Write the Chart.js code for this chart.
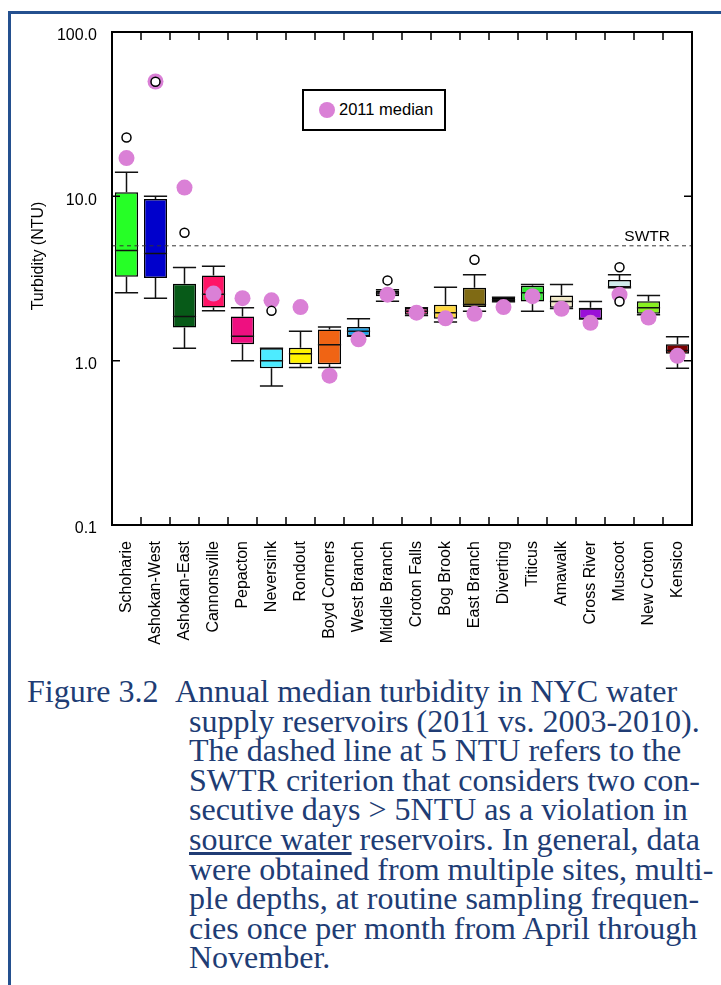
<!DOCTYPE html>
<html>
<head>
<meta charset="utf-8">
<script src="https://cdn.jsdelivr.net/npm/chart.js@4.4.0/dist/chart.umd.min.js"></script>
<style>
  html, body { margin: 0; padding: 0; background: #fff; }
  body { width: 721px; height: 985px; position: relative; overflow: hidden; }
  #frameTop { position: absolute; left: 8px; top: 11px; width: 713px; height: 3px; background: #24508f; }
  #frameLeft { position: absolute; left: 8px; top: 11px; width: 3px; height: 974px; background: #24508f; }
  #wrap { position: absolute; left: 0; top: 0; width: 721px; height: 650px; }
  #legend { position: absolute; left: 302px; top: 89px; width: 140px; height: 38px; border: 2px solid #000; background: #fff;
            font: 16.5px "Liberation Sans", Arial, sans-serif; color: #000; }
  #legend .dot { position: absolute; left: 15px; top: 11px; width: 16px; height: 16px; border-radius: 50%; background: #da80d6; }
  #legend .txt { position: absolute; left: 35px; top: 9px; white-space: nowrap; }
  .cap { position: absolute; font: 32px "Liberation Serif", "Times New Roman", serif; line-height: 29.6px; color: #203c74; white-space: nowrap; }
</style>
</head>
<body>
<div id="frameTop"></div>
<div id="frameLeft"></div>
<div id="wrap"><canvas id="chart"></canvas></div>
<div id="legend"><div class="dot"></div><div class="txt">2011 median</div></div>

<div class="cap" style="left:27px;top:677px">Figure 3.2</div>
<div class="cap" style="left:175px;top:677px">Annual median turbidity in NYC water</div>
<div class="cap" style="left:189px;top:706.6px">supply reservoirs (2011 vs. 2003-2010).</div>
<div class="cap" style="left:189px;top:736.2px">The dashed line at 5 NTU refers to the</div>
<div class="cap" style="left:189px;top:765.8px">SWTR criterion that considers two con-</div>
<div class="cap" style="left:189px;top:795.4px">secutive days &gt; 5NTU as a violation in</div>
<div class="cap" style="left:189px;top:825px"><u>source water</u> reservoirs. In general, data</div>
<div class="cap" style="left:189px;top:854.6px">were obtained from multiple sites, multi-</div>
<div class="cap" style="left:189px;top:884.2px">ple depths, at routine sampling frequen-</div>
<div class="cap" style="left:189px;top:913.8px">cies once per month from April through</div>
<div class="cap" style="left:189px;top:943.4px">November.</div>

<script>
// reservoirs, left to right
var reservoirs = ['Schoharie', 'Ashokan-West', 'Ashokan-East', 'Cannonsville', 'Pepacton', 'Neversink',
  'Rondout', 'Boyd Corners', 'West Branch', 'Middle Branch', 'Croton Falls', 'Bog Brook', 'East Branch',
  'Diverting', 'Titicus', 'Amawalk', 'Cross River', 'Muscoot', 'New Croton', 'Kensico'];

// 2003-2010 box plot stats (NTU)
var whiskerLow  = [2.59, 2.40, 1.19, 2.01, 1.00, 0.70, 0.91, 0.91, 1.41, 2.30, 1.88, 1.72, 2.00, 2.28, 2.00, 2.08, 1.79, 2.78, 1.90, 0.90];
var boxLow      = [3.24, 3.19, 1.59, 2.11, 1.26, 0.90, 0.95, 0.95, 1.41, 2.47, 1.90, 1.80, 2.12, 2.29, 2.29, 2.10, 1.79, 2.78, 1.93, 1.10];
var boxMedian   = [4.68, 4.49, 1.86, 2.54, 1.41, 1.00, 1.10, 1.25, 1.51, 2.58, 2.00, 1.96, 2.20, 2.35, 2.59, 2.29, 2.06, 2.82, 2.10, 1.155];
var boxHigh     = [10.6, 9.64, 2.94, 3.30, 1.86, 1.19, 1.20, 1.55, 1.60, 2.67, 2.09, 2.19, 2.78, 2.41, 2.86, 2.49, 2.10, 3.10, 2.30, 1.26];
var whiskerHigh = [14.0, 10.0, 3.69, 3.76, 2.10, 1.19, 1.51, 1.60, 1.80, 2.70, 2.10, 2.80, 3.33, 2.43, 2.91, 2.91, 2.29, 3.33, 2.49, 1.40];

// outliers
var outlierSite  = ['Schoharie', 'Ashokan-West', 'Ashokan-East', 'Neversink', 'Middle Branch', 'East Branch', 'Muscoot', 'Muscoot'];
var outlierValue = [22.8, 49.8, 6.0, 2.01, 3.08, 4.11, 3.70, 2.29];

// 2011 annual medians
var median2011 = [17.1, 50.0, 11.3, 2.56, 2.40, 2.33, 2.12, 0.81, 1.35, 2.52, 1.96, 1.81, 1.93, 2.12, 2.47, 2.07, 1.70, 2.52, 1.83, 1.07];

var boxColors = ['#26ff26', '#0000cc', '#075a18', '#ff1466', '#ee1080', '#4debff', '#fff200', '#f06414', '#1ea0e6', '#333333',
  '#d03070', '#ffd840', '#7f6a14', '#555555', '#2ee82e', '#f0e8c8', '#9a10d8', '#d0ecec', '#88f020', '#7a0000'];

var yTicks = [0.1, 1, 10, 100];
var swtr = 5;

var FONT = '"Liberation Sans", Arial, sans-serif';

var boxParts = {
  id: 'boxParts',
  afterDatasetDraw: function(chart, args) {
    if (args.index !== 0) return;
    var ctx = chart.ctx, ys = chart.scales.y, area = chart.chartArea;
    var bars = chart.getDatasetMeta(0).data;
    ctx.save();
    ctx.strokeStyle = '#111';
    ctx.lineWidth = 1.5;
    bars.forEach(function(bar, i) {
      var cx = bar.x, half = bar.width / 2;
      var yWl = ys.getPixelForValue(whiskerLow[i]), yBl = ys.getPixelForValue(boxLow[i]);
      var yBh = ys.getPixelForValue(boxHigh[i]), yWh = ys.getPixelForValue(whiskerHigh[i]);
      var yMd = ys.getPixelForValue(boxMedian[i]);
      ctx.beginPath();
      ctx.moveTo(cx, yBh); ctx.lineTo(cx, yWh);
      ctx.moveTo(cx, yBl); ctx.lineTo(cx, yWl);
      ctx.moveTo(cx - half, yWh); ctx.lineTo(cx + half, yWh);
      ctx.moveTo(cx - half, yWl); ctx.lineTo(cx + half, yWl);
      ctx.moveTo(cx - half, yMd); ctx.lineTo(cx + half, yMd);
      ctx.stroke();
    });
    // SWTR criterion
    var y5 = ys.getPixelForValue(swtr);
    ctx.strokeStyle = '#333';
    ctx.lineWidth = 1;
    ctx.setLineDash([4, 3.5]);
    ctx.beginPath();
    ctx.moveTo(area.left, y5); ctx.lineTo(area.right, y5);
    ctx.stroke();
    ctx.setLineDash([]);
    ctx.fillStyle = '#000';
    ctx.font = '15.5px ' + FONT;
    ctx.textAlign = 'right';
    ctx.textBaseline = 'alphabetic';
    ctx.fillText('SWTR', area.right - 22, y5 - 5);
    ctx.restore();
  },
  afterDraw: function(chart) {
    var ctx = chart.ctx, area = chart.chartArea, xs = chart.scales.x, ys = chart.scales.y;
    ctx.save();
    ctx.strokeStyle = '#000';
    ctx.lineWidth = 1.5;
    ctx.beginPath();
    yTicks.forEach(function(v) {
      var y = ys.getPixelForValue(v);
      ctx.moveTo(area.left, y); ctx.lineTo(area.left + 8, y);
      ctx.moveTo(area.right, y); ctx.lineTo(area.right - 8, y);
    });
    var step = (area.right - area.left) / reservoirs.length;
    for (var i = 1; i < reservoirs.length; i++) {
      var x = area.left + i * step;
      ctx.moveTo(x, area.top); ctx.lineTo(x, area.top + 8);
      ctx.moveTo(x, area.bottom); ctx.lineTo(x, area.bottom - 8);
    }
    ctx.stroke();
    ctx.lineWidth = 2;
    ctx.strokeRect(area.left, area.top, area.right - area.left, area.bottom - area.top);

    // y-axis title
    ctx.translate(39, 256);
    ctx.rotate(-Math.PI / 2);
    ctx.fillStyle = '#000';
    ctx.font = '16px ' + FONT;
    ctx.textAlign = 'center';
    ctx.textBaseline = 'middle';
    ctx.fillText('Turbidity (NTU)', 0, 0);
    ctx.restore();
  }
};

new Chart(document.getElementById('chart'), {
  type: 'bar',
  data: {
    labels: reservoirs,
    datasets: [{
      type: 'bar',
      data: boxLow.map(function(v, i) { return [v, boxHigh[i]]; }),
      backgroundColor: boxColors,
      borderColor: '#000',
      borderWidth: 1.5,
      borderSkipped: false,
      barPercentage: 0.8,
      categoryPercentage: 1.0,
      order: 3
    }, {
      type: 'scatter',
      label: '2011 median',
      data: median2011.map(function(v, i) { return { x: reservoirs[i], y: v }; }),
      pointRadius: 8,
      pointHoverRadius: 8,
      pointBackgroundColor: '#da80d6',
      pointBorderWidth: 0,
      order: 2
    }, {
      type: 'scatter',
      data: outlierValue.map(function(v, i) { return { x: outlierSite[i], y: v }; }),
      pointRadius: 4.5,
      pointHoverRadius: 4.5,
      pointBackgroundColor: '#fff',
      pointBorderColor: '#000',
      pointBorderWidth: 1.5,
      order: 1
    }]
  },
  options: {
    responsive: true,
    maintainAspectRatio: false,
    animation: false,
    events: [],
    layout: { padding: { top: 32, left: 0, right: 29, bottom: 0 } },
    plugins: { legend: { display: false }, tooltip: { enabled: false } },
    scales: {
      x: {
        type: 'category',
        grid: { display: false, drawTicks: false },
        border: { display: false },
        ticks: { autoSkip: false, minRotation: 90, maxRotation: 90, padding: 16, color: '#000', font: { family: FONT, size: 16 } },
        afterFit: function(scale) { scale.height = 125; }
      },
      y: {
        type: 'logarithmic',
        min: 0.1,
        max: 100,
        grid: { display: false, drawTicks: false },
        border: { display: false },
        afterBuildTicks: function(scale) { scale.ticks = yTicks.map(function(v) { return { value: v }; }); },
        ticks: { padding: 15, labelOffset: 4, color: '#000', font: { family: FONT, size: 16 },
                 callback: function(v) { return Number(v).toFixed(1); } },
        afterFit: function(scale) { scale.width = 112; }
      }
    }
  },
  plugins: [boxParts]
});
</script>
</body>
</html>
